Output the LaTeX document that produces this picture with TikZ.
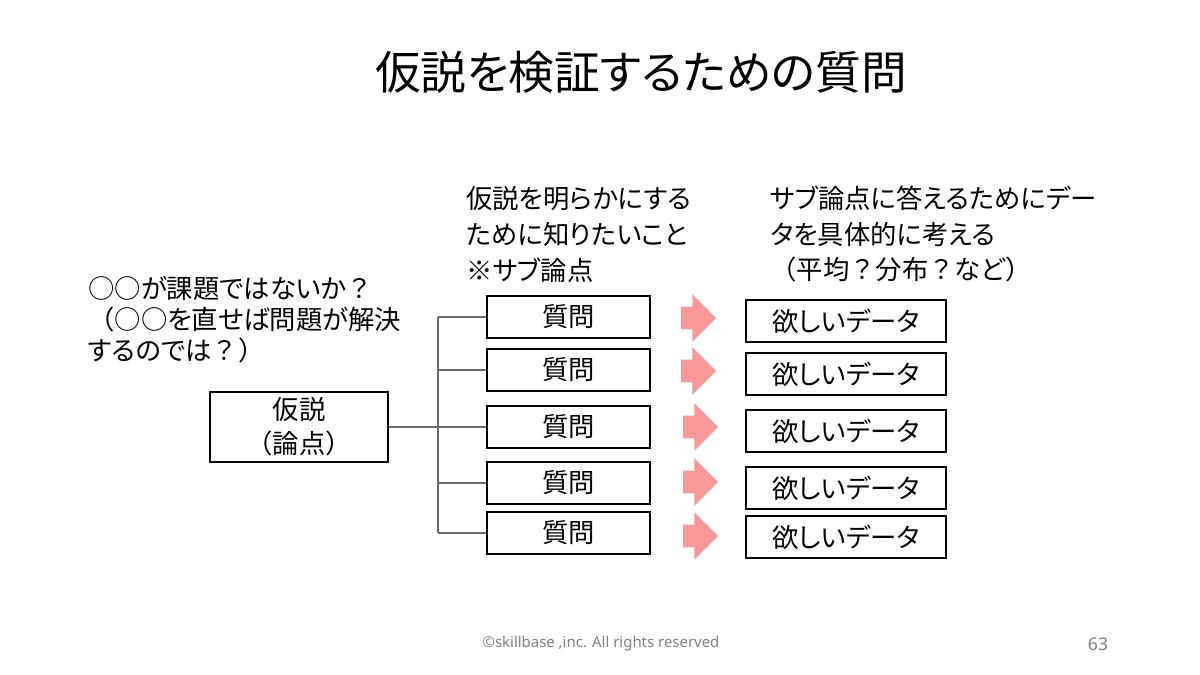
\documentclass[tikz,border=0pt]{standalone}
\usepackage{fontspec}
\setmainfont{Noto Sans CJK JP}[RawFeature=+palt]
\newfontfamily\fullw{Noto Sans CJK JP}
\newfontfamily\footfont{Noto Sans}
\newcommand{\fw}[1]{{\fullw #1}}
\usetikzlibrary{
  positioning,
  shapes.arrows
}

\definecolor{arrowpink}{RGB}{248,152,152}
\definecolor{treegray}{RGB}{105,105,105}
\definecolor{footgray}{RGB}{128,128,128}

\tikzset{
  qbox/.style = {draw, line width=0.8pt, minimum width=3.26cm, minimum height=0.84cm,
    inner sep=0pt, font=\fontsize{15}{18}\selectfont},
  dbox/.style = {qbox, minimum width=4cm},
  hypbox/.style = {qbox, minimum width=3.56cm, minimum height=1.4cm, align=center,
    font=\fontsize{15}{19.3}\selectfont},
  blockarr/.style = {shape=single arrow, fill=arrowpink, draw=none, inner xsep=0pt,
    inner ysep=0.22cm, minimum height=0.7cm, minimum width=0.8cm,
    single arrow head indent=0pt},
  tree/.style = {draw=treegray, line width=0.7pt},
  note/.style = {anchor=north west, inner sep=0pt, align=left}
}

\begin{document}
\begin{tikzpicture}[x=0.02cm, y=-0.02cm]
    \useasboundingbox (0,0) rectangle (1200,675);

    \node[font=\fontsize{26}{30}\selectfont] (title) at (641,72) {仮説を検証するための質問};

    % comments on the three columns
    \node[note, font=\fontsize{15}{17.6}\selectfont] (issue) at (88,276)
        {○○が課題ではないか\fw{？}\\\fw{（}○○を直せば問題が解決\\するのでは\fw{？）}};
    \node[note, font=\fontsize{15}{20.4}\selectfont] (subnote) at (466,186)
        {仮説を明らかにする\\ために知りたいこと\\※サブ論点};
    \node[note, font=\fontsize{15}{20}\selectfont] (datanote) at (770,186)
        {サブ論点に答えるためにデー\\タを具体的に考える\\\fw{（}平均\fw{？}分布\fw{？}など\fw{）}};

    \node[hypbox] (hyp) at (299,427) {仮説\\\fw{（}論点\fw{）}};

    \node[qbox] (q1) at (568.5,317) {質問};
    \node[qbox] (q2) at (568.5,370) {質問};
    \node[qbox] (q3) at (568.5,427) {質問};
    \node[qbox] (q4) at (568.5,483) {質問};
    \node[qbox] (q5) at (568.5,533) {質問};

    \node[blockarr] (a1) at (693,318) {};
    \node[blockarr] (a2) at (693,371) {};
    \node[blockarr] (a3) at (695,427) {};
    \node[blockarr] (a4) at (695,482) {};
    \node[blockarr] (a5) at (695,536) {};

    \node[dbox] (d1) at (846,321) {欲しいデータ};
    \node[dbox] (d2) at (846,374) {欲しいデータ};
    \node[dbox] (d3) at (846,431) {欲しいデータ};
    \node[dbox] (d4) at (846,488) {欲しいデータ};
    \node[dbox] (d5) at (846,537) {欲しいデータ};

    % tree from the hypothesis to the questions
    \coordinate (trunk) at (438,427);
    \draw[tree] (hyp.east) -- (trunk);
    \draw[tree] (q1.west -| trunk) -- (q5.west -| trunk);
    \draw[tree] (q1.west -| trunk) -- (q1.west);
    \draw[tree] (q2.west -| trunk) -- (q2.west);
    \draw[tree] (q3.west -| trunk) -- (q3.west);
    \draw[tree] (q4.west -| trunk) -- (q4.west);
    \draw[tree] (q5.west -| trunk) -- (q5.west);

    \node[font=\footfont\fontsize{8.5}{10}\selectfont, text=footgray] (copy) at (601,644)
        {©skillbase ,inc. All rights reserved};
    \node[font=\footfont\fontsize{10}{12}\selectfont, text=footgray] (page) at (1098,644) {63};
\end{tikzpicture}
\end{document}
